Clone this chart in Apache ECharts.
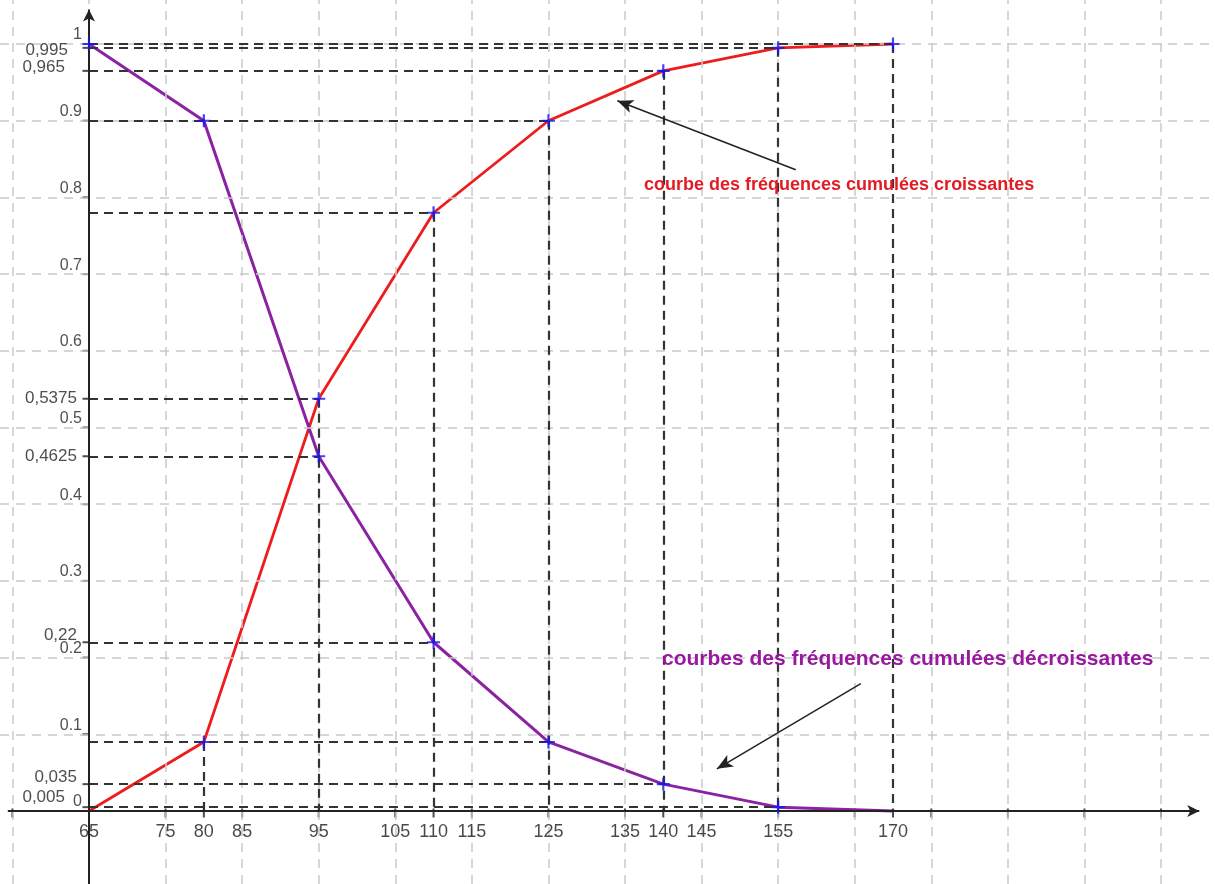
<!DOCTYPE html>
<html><head><meta charset="utf-8">
<script src="https://cdn.jsdelivr.net/npm/echarts@6/dist/echarts.min.js"></script>
<style>html,body{margin:0;padding:0;background:#fff}#c{width:1215px;height:884px}</style>
</head><body><div id="c"></div>
<script>
// ---- data ----
const xValues = [65, 80, 95, 110, 125, 140, 155, 170];
const increasing = [0, 0.09, 0.5375, 0.78, 0.9, 0.965, 0.995, 1];
const decreasing = [1, 0.9, 0.4625, 0.22, 0.09, 0.035, 0.005, 0];
const xTickLabels = [65, 75, 80, 85, 95, 105, 110, 115, 125, 135, 140, 145, 155, 170];
const xTicksUnlabeled = [55, 165, 175, 185, 195, 205];
const gridX = [55, 65, 75, 85, 95, 105, 115, 125, 135, 145, 155, 165, 175, 185, 195, 205];
const gridY = [0.1, 0.2, 0.3, 0.4, 0.5, 0.6, 0.7, 0.8, 0.9, 1];
const yTickValues = [0, 0.1, 0.2, 0.3, 0.4, 0.5, 0.6, 0.7, 0.8, 0.9, 1];
const yTickLabels = ['0', '0.1', '0.2', '0.3', '0.4', '0.5', '0.6', '0.7', '0.8', '0.9', '1'];
const yRefValues = [0.995, 0.965, 0.5375, 0.4625, 0.22, 0.035, 0.005];
const yRefLabels = ['0,995', '0,965', '0,5375', '0,4625', '0,22', '0,035', '0,005'];
const labelIncreasing = 'courbe des fréquences cumulées croissantes';
const labelDecreasing = 'courbes des fréquences cumulées décroissantes';

// ---- styling / layout ----
const X_MIN = 53.38, X_MAX = 212.05, Y_MIN = -0.0952, Y_MAX = 1.0574;
const refLabelShift = {'0,995': [-9, 2], '0,965': [-12, -4], '0,22': [0, -7], '0,035': [0, -7], '0,005': [-12, -10]};
const FONT = '"Liberation Sans", Arial, sans-serif';
const crossPath = 'path://M5,0H7V5H12V7H7V12H5V7H0V5H5Z';

const pts = (ys) => xValues.map((x, i) => [x, ys[i]]);
const redPts = pts(increasing), purplePts = pts(decreasing);

// projection lines (horizontal to the farthest point with same value, vertical under increasing points)
const hMap = new Map();
[...redPts, ...purplePts].forEach(([x, y]) => {
  if (y === 0) return;
  hMap.set(y, Math.max(hMap.get(y) || xValues[0], x));
});
const projLines = [];
hMap.forEach((xe, y) => { if (xe > xValues[0]) projLines.push([{coord: [xValues[0], y]}, {coord: [xe, y]}]); });
redPts.forEach(([x, y]) => { if (y > 0) projLines.push([{coord: [x, y]}, {coord: [x, 0]}]); });

const chart = echarts.init(document.getElementById('c'), null, {renderer: 'canvas'});
const none = {show: false};
const option = {
  animation: false,
  backgroundColor: '#fff',
  grid: {left: 0, right: 0, top: 0, bottom: 0},
  xAxis: {type: 'value', min: X_MIN, max: X_MAX, show: false},
  yAxis: {type: 'value', min: Y_MIN, max: Y_MAX, show: false},
  series: [
    { // background grid
      type: 'line', data: [], z: 1, silent: true,
      markLine: {
        silent: true, symbol: 'none', label: none, animation: false,
        lineStyle: {color: '#c9c9c9', width: 1.5, type: [9, 7]},
        emphasis: {disabled: true},
        data: [...gridX.map(v => ({xAxis: v})), ...gridY.map(v => ({yAxis: v}))]
      }
    },
    { // projection dashed lines
      type: 'line', data: [], z: 2, silent: true,
      markLine: {
        silent: true, symbol: 'none', label: none, animation: false,
        lineStyle: {color: '#333', width: 2.2, type: [9, 6]},
        emphasis: {disabled: true},
        data: projLines
      }
    },
    { // axes with arrows
      type: 'line', data: [], z: 3, silent: true,
      markLine: {
        silent: true, symbol: ['none', 'arrow'], symbolSize: [9, 12], label: none, animation: false,
        lineStyle: {color: '#222', width: 2, type: 'solid'},
        emphasis: {disabled: true},
        data: [
          [{coord: [54.4, 0]}, {coord: [210.0, 0]}],
          [{coord: [xValues[0], Y_MIN]}, {coord: [xValues[0], 1.045]}]
        ]
      }
    },
    { // annotation arrows
      type: 'line', data: [], z: 3, silent: true,
      markLine: {
        silent: true, symbol: ['none', 'arrow'], symbolSize: [10, 16], label: none, animation: false,
        lineStyle: {color: '#222', width: 1.5, type: 'solid'},
        emphasis: {disabled: true},
        data: [
          [{coord: [157.3, 0.836]}, {coord: [134.0, 0.926]}],
          [{coord: [165.8, 0.166]}, {coord: [147.0, 0.055]}]
        ]
      }
    },
    { // x ticks
      type: 'scatter', z: 3, silent: true, symbol: 'rect', symbolSize: [2, 9], symbolOffset: [0, 2],
      itemStyle: {color: '#222'},
      data: [...xTickLabels, ...xTicksUnlabeled].map(v => [v, 0])
    },
    { // y ticks
      type: 'scatter', z: 3, silent: true, symbol: 'rect', symbolSize: [7, 2], symbolOffset: [-3, 0],
      itemStyle: {color: '#222'},
      data: [...yTickValues, ...yRefValues].map(v => [xValues[0], v])
    },
    { // x labels
      type: 'scatter', z: 6, silent: true, symbolSize: 0,
      label: {show: true, position: 'bottom', distance: 12, color: '#1a1a1a', fontSize: 18, fontFamily: FONT,
        formatter: p => String(p.value[0])},
      data: xTickLabels.map(v => [v, 0])
    },
    { // y tick labels
      type: 'scatter', z: 6, silent: true, symbolSize: 0,
      label: {show: true, position: 'left', distance: 7, offset: [0, -9], color: '#222', fontSize: 16, fontFamily: FONT,
        formatter: p => yTickLabels[p.dataIndex]},
      data: yTickValues.map(v => [xValues[0], v])
    },
    { // y reference labels
      type: 'scatter', z: 6, silent: true, symbolSize: 0,
      data: yRefValues.map((v, i) => ({
        value: [xValues[0], v],
        label: {show: true, position: 'left', distance: 12, offset: refLabelShift[yRefLabels[i]] || [0, 0],
          color: '#222', fontSize: 17, fontFamily: FONT, formatter: yRefLabels[i]}
      }))
    },
    { // increasing curve
      type: 'line', name: labelIncreasing, z: 4, silent: true, showSymbol: false, symbol: 'none',
      lineStyle: {color: '#ee1c1c', width: 2.8},
      data: redPts
    },
    { // decreasing curve
      type: 'line', name: labelDecreasing, z: 4, silent: true, showSymbol: false, symbol: 'none',
      lineStyle: {color: '#8a22a2', width: 3},
      data: purplePts
    },
    { // crosses
      type: 'scatter', z: 5, silent: true, symbol: crossPath, symbolSize: 13,
      itemStyle: {color: '#1414f5'},
      data: [...redPts, ...purplePts].filter(p => p[1] > 0)
    }
  ],
  graphic: [
    {type: 'text', left: 644, top: 176, z: 10, silent: true,
      style: {text: labelIncreasing, fill: '#e31b23', font: 'bold 18px ' + FONT}},
    {type: 'text', left: 662, top: 649, z: 10, silent: true,
      style: {text: labelDecreasing, fill: '#98189f', font: 'bold 21px ' + FONT}}
  ]
};
chart.setOption(option);
</script>
</body></html>
